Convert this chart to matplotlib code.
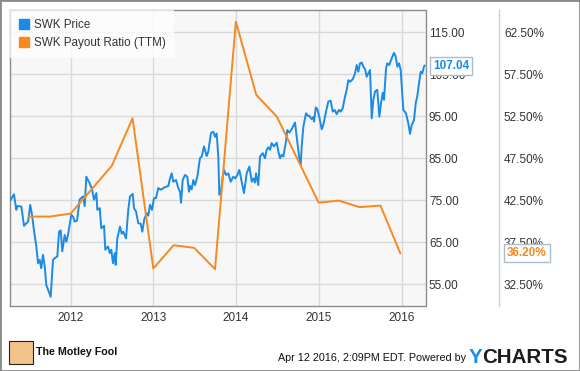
import matplotlib
matplotlib.use("Agg")
import matplotlib.pyplot as plt
from matplotlib.lines import Line2D
from matplotlib.patches import Rectangle

plt.rcParams['font.family'] = ['Liberation Sans', 'DejaVu Sans']

# SWK daily price, x in decimal years
price_t = [2011.274, 2011.314, 2011.342, 2011.354, 2011.403, 2011.435, 2011.463, 2011.484,
           2011.511, 2011.532, 2011.556, 2011.584, 2011.605, 2011.625, 2011.644, 2011.665,
           2011.686, 2011.705, 2011.758, 2011.786, 2011.807, 2011.838, 2011.859, 2011.879,
           2011.898, 2011.927, 2011.947, 2011.967, 2012.007, 2012.028, 2012.048, 2012.076,
           2012.109, 2012.149, 2012.169, 2012.189, 2012.230, 2012.258, 2012.282, 2012.310,
           2012.322, 2012.351, 2012.370, 2012.403, 2012.418, 2012.451, 2012.472, 2012.491,
           2012.511, 2012.532, 2012.544, 2012.563, 2012.596, 2012.617, 2012.636, 2012.669,
           2012.696, 2012.717, 2012.750, 2012.765, 2012.790, 2012.817, 2012.846, 2012.866,
           2012.890, 2012.919, 2012.938, 2012.959, 2012.983, 2013.007, 2013.031, 2013.059,
           2013.088, 2013.140, 2013.180, 2013.201, 2013.221, 2013.241, 2013.273, 2013.301,
           2013.322, 2013.334, 2013.354, 2013.382, 2013.410, 2013.430, 2013.442, 2013.463,
           2013.482, 2013.503, 2013.531, 2013.563, 2013.584, 2013.612, 2013.644, 2013.664,
           2013.696, 2013.724, 2013.745, 2013.765, 2013.785, 2013.797, 2013.814, 2013.838,
           2013.854, 2013.878, 2013.906, 2013.935, 2013.966, 2013.990, 2014.015, 2014.039,
           2014.068, 2014.095, 2014.128, 2014.160, 2014.189, 2014.208, 2014.228, 2014.241,
           2014.268, 2014.289, 2014.322, 2014.349, 2014.370, 2014.389, 2014.410, 2014.430,
           2014.458, 2014.491, 2014.510, 2014.531, 2014.551, 2014.571, 2014.603, 2014.619,
           2014.643, 2014.672, 2014.712, 2014.733, 2014.761, 2014.781, 2014.793, 2014.813,
           2014.845, 2014.873, 2014.885, 2014.914, 2014.934, 2014.942, 2014.963, 2014.982,
           2015.006, 2015.035, 2015.054, 2015.087, 2015.115, 2015.144, 2015.168, 2015.192,
           2015.216, 2015.244, 2015.265, 2015.289, 2015.317, 2015.337, 2015.357, 2015.377,
           2015.410, 2015.438, 2015.458, 2015.478, 2015.498, 2015.519, 2015.538, 2015.559,
           2015.579, 2015.599, 2015.619, 2015.640, 2015.659, 2015.680, 2015.707, 2015.732,
           2015.752, 2015.773, 2015.788, 2015.813, 2015.828, 2015.852, 2015.881, 2015.909,
           2015.930, 2015.949, 2015.970, 2015.990, 2016.002, 2016.022, 2016.054, 2016.082,
           2016.103, 2016.123, 2016.151, 2016.172, 2016.191, 2016.212, 2016.232, 2016.251,
           2016.272, 2016.279]
price_v = [75.1, 76.4, 72.7, 73.6, 73.5, 68.9, 69.5, 69.9,
           73.9, 71.5, 67.8, 64.0, 60.0, 60.8, 58.8, 62.0,
           59.2, 54.8, 52.0, 60.8, 61.2, 61.6, 67.5, 67.8,
           62.8, 66.7, 65.1, 66.7, 71.5, 71.1, 69.9, 70.1,
           75.2, 75.9, 73.6, 80.6, 79.0, 77.6, 75.1, 76.7,
           72.7, 73.1, 68.3, 68.9, 63.2, 64.0, 62.4, 63.2,
           60.0, 62.4, 59.6, 65.9, 68.7, 67.0, 67.5, 65.9,
           72.7, 75.9, 76.5, 73.1, 72.3, 69.5, 69.4, 67.5,
           70.5, 71.9, 71.3, 73.9, 72.7, 75.5, 75.5, 77.9,
           77.5, 78.1, 78.4, 80.2, 81.4, 79.4, 79.8, 77.9,
           77.0, 74.4, 79.8, 81.0, 80.6, 77.0, 78.4, 77.6,
           79.8, 78.6, 80.6, 85.0, 85.4, 87.8, 85.5, 86.6,
           91.0, 91.3, 90.1, 90.9, 85.2, 76.3, 76.7, 80.6,
           82.2, 81.0, 81.4, 79.4, 80.6, 80.2, 81.0, 82.2,
           79.4, 76.7, 81.4, 83.0, 79.4, 80.2, 79.2, 81.4,
           78.6, 85.4, 86.2, 85.0, 87.0, 87.6, 87.0, 88.6,
           87.8, 88.7, 86.6, 85.0, 85.8, 85.4, 89.0, 91.7,
           91.1, 91.9, 93.5, 90.1, 85.4, 83.4, 87.8, 92.5,
           95.7, 95.0, 95.1, 94.3, 94.8, 93.7, 97.1, 96.7,
           94.8, 91.9, 92.9, 96.1, 98.5, 98.7, 96.1, 96.5,
           95.5, 96.5, 96.1, 96.9, 99.7, 101.3, 103.6, 103.2,
           103.8, 105.2, 107.2, 105.6, 107.6, 107.8, 106.8, 106.2,
           104.4, 105.2, 106.0, 94.5, 98.9, 100.9, 101.3, 94.9,
           98.1, 100.6, 98.9, 106.4, 107.6, 107.2, 108.8, 110.1,
           109.2, 106.8, 107.6, 106.0, 102.5, 96.5, 95.7, 93.3,
           90.8, 92.9, 94.1, 98.1, 99.8, 102.9, 105.6, 105.2,
           106.8, 107.04]

# quarterly payout ratio (TTM), %
payout_t = [2011.496, 2011.748, 2011.999, 2012.496, 2012.748, 2012.999, 2013.244, 2013.493,
            2013.745, 2013.997, 2014.244, 2014.493, 2014.997, 2015.244, 2015.493, 2015.745,
            2015.985]
payout_v = [40.55, 40.55, 40.9, 46.58, 52.26, 34.36, 37.14, 36.82,
            34.29, 63.76, 55.04, 52.45, 42.21, 42.45, 41.67, 41.86, 36.20]

years = [2012, 2013, 2014, 2015, 2016]
price_ticks = [55, 65, 75, 85, 95, 105, 115]
pct_ticks = [32.5, 37.5, 42.5, 47.5, 52.5, 57.5, 62.5]

BLUE = "#1a8be6"
ORANGE = "#f7891f"
TXT = "#333333"

fig = plt.figure(figsize=(5.8, 3.71), dpi=100)
W, H = 580.0, 371.0
ax = fig.add_axes([10 / W, 65 / H, 415.5 / W, 296 / H])
ax.set_facecolor("#f7f7f7")

ax.plot(price_t, price_v, color=BLUE, lw=1.4, zorder=3)
ax.set_xlim(2011.266, 2016.290)
ax.set_ylim(49.8, 120.3)

# payout ratio on a twin axis, aligned so 55 <-> 32.5% and 115 <-> 62.5%
ax2 = ax.twinx()
ax2.plot(payout_t, payout_v, color=ORANGE, lw=1.4, zorder=3)
lo, hi = ax.get_ylim()
ax2.set_ylim(32.5 + (lo - 55) / 2, 32.5 + (hi - 55) / 2)
ax2.set_yticks(pct_ticks)
ax2.set_yticklabels([f"{v:.2f}%" for v in pct_ticks])
ax2.tick_params(axis="y", length=0, pad=56.5, labelsize=8.5, labelcolor=TXT)
for s in ax2.spines.values():
    s.set_visible(False)

ax.set_xticks(years)
ax.set_xticklabels([str(y) for y in years])
ax.set_yticks(price_ticks)
ax.set_yticklabels([f"{v:.2f}" for v in price_ticks])
ax.yaxis.tick_right()
ax.tick_params(axis="y", length=0, pad=2.5, labelsize=8.5, labelcolor=TXT)
ax.tick_params(axis="x", length=0, pad=4, labelsize=8.5, labelcolor=TXT)
ax.grid(True, color="#d9d9d9", lw=1)
ax.set_axisbelow(True)
for s in ax.spines.values():
    s.set_color("#8c8c8c")
    s.set_linewidth(1)

# legend
handles = [Line2D([], [], marker="s", ls="", color=BLUE, markersize=6.5),
           Line2D([], [], marker="s", ls="", color=ORANGE, markersize=6.5)]
leg = ax2.legend(handles, ["SWK Price", "SWK Payout Ratio (TTM)"], loc="upper left",
                 bbox_to_anchor=(0, 1), borderaxespad=0, frameon=True, fancybox=False,
                 fontsize=8.4, handlelength=0.9, handletextpad=0.4, labelspacing=0.55,
                 borderpad=0.75)
leg.get_frame().set_facecolor("white")
leg.get_frame().set_alpha(0.75)
leg.get_frame().set_edgecolor("none")
for t in leg.get_texts():
    t.set_color(TXT)

# last value callouts
ax.annotate(f"{price_v[-1]:.2f}", xy=(1, price_v[-1]), xycoords=("axes fraction", "data"),
            xytext=(5.4, 0), textcoords="offset points", ha="left", va="center",
            color=BLUE, fontsize=8.5, fontweight="bold", annotation_clip=False, zorder=10,
            bbox=dict(boxstyle="square,pad=0.25", fc="white", ec="#a9bccd", lw=1))
ax2.annotate(f"{payout_v[-1]:.2f}%", xy=(1, payout_v[-1]), xycoords=("axes fraction", "data"),
             xytext=(58.7, 0), textcoords="offset points", ha="left", va="center",
             color=ORANGE, fontsize=8.5, fontweight="bold", annotation_clip=False, zorder=10,
             bbox=dict(boxstyle="square,pad=0.25", fc="white", ec="#a9bccd", lw=1))

# separator between the two value columns
fig.add_artist(Line2D([499.3 / W] * 2, [65 / H, 361 / H], color="#c5d3df", lw=1))

# footer
fig.add_artist(Rectangle((8.5 / W, (H - 363.5) / H), 24 / W, 23 / H, fc="#f2c48a",
                         ec="#222222", lw=0.8))
fig.text(35.7 / W, (H - 351.7) / H, "The Motley Fool", fontsize=7.7, fontweight="bold",
         color="#111111", va="center")
fig.text(277.7 / W, (H - 358.3) / H, "Apr 12 2016, 2:09PM EDT. Powered by", fontsize=7.75,
         color="#111111", va="center")
fig.text(468.5 / W, (H - 362.7) / H, "Y", fontsize=14.8, fontweight="bold", color="#1a8fe0",
         va="baseline")
fig.text(482.2 / W, (H - 362.7) / H, "CHARTS", fontsize=14.8, fontweight="bold",
         color="#1c1c1c", va="baseline")

# outer frame
fig.add_artist(Rectangle((0, 0), 1, 1, transform=fig.transFigure, fill=False,
                         ec="#8a8a8a", lw=2))

fig.savefig("out.png", dpi=100)
